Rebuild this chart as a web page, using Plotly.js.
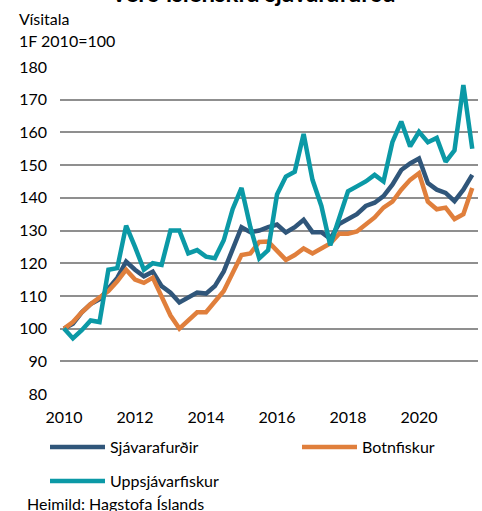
<!DOCTYPE html>
<html>
<head>
<meta charset="utf-8">
<script src="https://cdn.plot.ly/plotly-3.0.1.min.js"></script>
<style>html,body{margin:0;padding:0;background:#fff;}#chart{width:482px;height:511px;}</style>
</head>
<body>
<div id="chart"></div>
<script>
// Quarterly index, 1F 2010 = 100, 2010Q1 .. 2021Q3
var startYear = 2010;
var sjavarafurdir = [100, 101.5, 105, 107.5, 109, 112, 115.5, 120.5, 118, 116, 117.4, 113,
  111, 108, 109.5, 111, 110.7, 113, 117.5, 124, 131, 129.5, 130, 131,
  131.8, 129.4, 131, 133.3, 129.5, 129.5, 127.5, 132, 133.5, 135, 137.5, 138.5,
  140.5, 144, 148.5, 150.5, 152, 144.5, 142.5, 141.5, 139, 142.5, 147];
var botnfiskur = [100, 102, 105, 107.5, 109.5, 111.5, 114.5, 118, 115, 114, 115.6, 110,
  104, 100, 102.5, 105, 105, 108, 111.5, 117, 122.5, 123, 126.5, 126.6,
  124, 121, 122.5, 124.5, 123, 124.5, 126, 129, 129, 129.7, 132, 134,
  137, 138.8, 142.5, 145.5, 147.5, 138.8, 136.5, 137, 133.5, 135, 143];
var uppsjavarfiskur = [100, 97, 99.5, 102.5, 102, 118, 118.5, 131.5, 125, 118, 120, 119.5,
  130, 130, 123, 124, 122, 121.5, 127, 136.5, 143, 131, 121.5, 124,
  141, 146.5, 148, 159.5, 145.5, 137.5, 125.5, 134, 142, 143.5, 145, 147,
  145, 157, 163.3, 155.7, 160.2, 157, 158.3, 151, 154.5, 174.5, 155];
var seriesNames = ["Sjávarafurðir", "Botnfiskur", "Uppsjávarfiskur"];
var tickYears = [2010, 2012, 2014, 2016, 2018, 2020];
var tickLabels = ["2010", "2012", "2014", "2016", "2018", "2020"];

var xq = sjavarafurdir.map(function (_, i) { return startYear + i * 0.25; });

var FONT = "Lato, 'Open Sans', sans-serif";
var FS = 16;
var colors = ["#30567A", "#E07F3C", "#0B99A6"];

var traces = [
  {x: xq, y: sjavarafurdir, name: seriesNames[0], type: "scatter", mode: "lines",
   line: {color: colors[0], width: 4.5}, legend: "legend"},
  {x: xq, y: botnfiskur, name: seriesNames[1], type: "scatter", mode: "lines",
   line: {color: colors[1], width: 4.5}, legend: "legend3"},
  {x: xq, y: uppsjavarfiskur, name: seriesNames[2], type: "scatter", mode: "lines",
   line: {color: colors[2], width: 4.5}, legend: "legend2"}
];

function leg(xpx, ypx) {
  return {orientation: "h", xref: "container", yref: "container", x: xpx / 482, y: 1 - ypx / 511,
          xanchor: "left", yanchor: "middle", itemwidth: 55,
          font: {size: FS, family: FONT, color: "#000"}, bgcolor: "rgba(0,0,0,0)"};
}

var PW = 418, PH = 327, PL = 60, PB = 394;
function px(x) { return (x - PL) / PW; }
function py(y) { return (PB - y) / PH; }

var layout = {
  width: 482, height: 511,
  margin: {l: 60, r: 4, t: 67, b: 117},
  paper_bgcolor: "#fff", plot_bgcolor: "#fff",
  font: {family: FONT, size: FS, color: "#000"},
  title: {text: "<b>Verð íslenskra sjávarafurða</b>", font: {family: FONT, size: 24, color: "#000"},
          xref: "container", x: 0.525, xanchor: "center", yref: "container", y: 0.997, yanchor: "bottom"},
  xaxis: {range: [2009.887, 2021.662], tickvals: tickYears, ticktext: tickLabels,
          showgrid: false, zeroline: false, showline: false, ticks: "",
          ticklabelstandoff: 12, tickfont: {size: FS, family: FONT, color: "#000"}, fixedrange: true},
  yaxis: {range: [80, 180], dtick: 10, tick0: 80, showgrid: true, gridcolor: "#8f8f8f", gridwidth: 2,
          zeroline: false, showline: false, ticks: "", ticklabelstandoff: 12,
          tickfont: {size: FS, family: FONT, color: "#000"}, fixedrange: true},
  showlegend: true,
  legend: leg(45, 447),
  legend3: leg(297, 447),
  legend2: leg(45, 481),
  annotations: [
    {text: "Vísitala", xref: "paper", yref: "paper", x: px(17), y: py(18),
     xanchor: "left", yanchor: "middle", showarrow: false, font: {size: FS, family: FONT, color: "#000"}},
    {text: "1F 2010=100", xref: "paper", yref: "paper", x: px(17), y: py(40),
     xanchor: "left", yanchor: "middle", showarrow: false, font: {size: FS, family: FONT, color: "#000"}},
    {text: "Heimild: Hagstofa Íslands", xref: "paper", yref: "paper", x: px(25), y: py(503),
     xanchor: "left", yanchor: "middle", showarrow: false, font: {size: FS, family: FONT, color: "#000"}}
  ]
};

Plotly.newPlot("chart", traces, layout, {displayModeBar: false, staticPlot: true});
</script>
</body>
</html>
